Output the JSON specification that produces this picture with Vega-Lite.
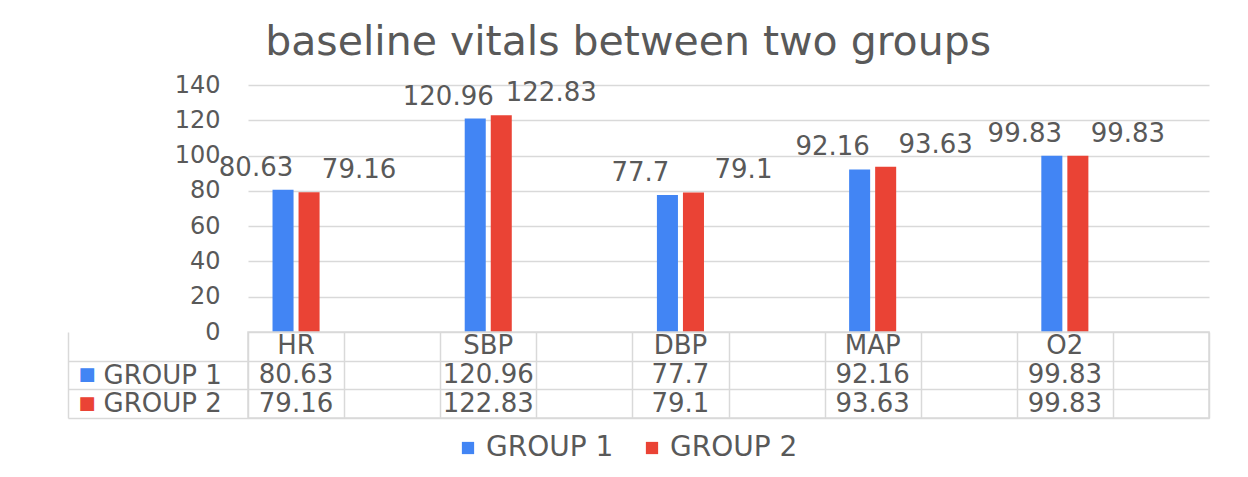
{
  "$schema": "https://vega.github.io/schema/vega-lite/v6.json",
  "background": "white",
  "padding": {"left": 66, "top": 22, "right": 5, "bottom": 5},
  "title": {
    "text": "baseline vitals between two groups",
    "fontSize": 41,
    "font": "DejaVu Sans",
    "fontWeight": "normal",
    "color": "#595959",
    "anchor": "middle",
    "offset": 9,
    "dx": -10
  },
  "data": {
    "values": [
      {"cat": "HR", "group": "GROUP 1", "value": 80.63},
      {"cat": "HR", "group": "GROUP 2", "value": 79.16},
      {"cat": "SBP", "group": "GROUP 1", "value": 120.96},
      {"cat": "SBP", "group": "GROUP 2", "value": 122.83},
      {"cat": "DBP", "group": "GROUP 1", "value": 77.7},
      {"cat": "DBP", "group": "GROUP 2", "value": 79.1},
      {"cat": "MAP", "group": "GROUP 1", "value": 92.16},
      {"cat": "MAP", "group": "GROUP 2", "value": 93.63},
      {"cat": "O2", "group": "GROUP 1", "value": 99.83},
      {"cat": "O2", "group": "GROUP 2", "value": 99.83}
    ]
  },
  "spacing": 0,
  "bounds": "flush",
  "vconcat": [
    {
      "width": 961,
      "height": 247,
      "view": {"stroke": null},
      "encoding": {
        "x": {
          "field": "cat",
          "type": "nominal",
          "scale": {"domain": ["HR", "gap1", "SBP", "gap2", "DBP", "gap3", "MAP", "gap4", "O2", "gap5"], "paddingInner": 0, "paddingOuter": 0},
          "axis": null
        },
        "xOffset": {
          "field": "group",
          "type": "nominal",
          "scale": {"domain": ["GROUP 1", "GROUP 2"], "paddingInner": 0.192, "paddingOuter": 0.942}
        },
        "y": {
          "field": "value",
          "type": "quantitative",
          "scale": {"domain": [0, 140]},
          "axis": {
            "values": [0, 20, 40, 60, 80, 100, 120, 140],
            "title": null,
            "domain": false,
            "ticks": false,
            "labelPadding": 28,
            "labelFontSize": 24,
            "labelFont": "DejaVu Sans",
            "labelColor": "#595959",
            "gridColor": "#d9d9d9",
            "gridWidth": 1.5
          }
        }
      },
      "layer": [
        {
          "mark": {"type": "bar"},
          "encoding": {
            "color": {
              "field": "group",
              "type": "nominal",
              "scale": {"domain": ["GROUP 1", "GROUP 2"], "range": ["#4285F4", "#EA4335"]},
              "legend": {
                "orient": "none",
                "legendX": 206,
                "legendY": 349,
                "direction": "horizontal",
                "title": null,
                "symbolType": "square",
                "symbolSize": 150,
                "symbolStrokeWidth": 0,
                "labelFontSize": 28,
                "labelFont": "DejaVu Sans",
                "labelColor": "#595959",
                "columnPadding": 24
              }
            }
          }
        },
        {
          "transform": [{"filter": "datum.group == 'GROUP 1'"}],
          "mark": {"type": "text", "dx": -27, "dy": -22, "fontSize": 26, "font": "DejaVu Sans", "color": "#595959", "baseline": "middle"},
          "encoding": {"text": {"field": "value", "type": "nominal"}}
        },
        {
          "transform": [{"filter": "datum.group == 'GROUP 2'"}],
          "mark": {"type": "text", "dx": 50, "dy": -22, "fontSize": 26, "font": "DejaVu Sans", "color": "#595959", "baseline": "middle"},
          "encoding": {"text": {"field": "value", "type": "nominal"}}
        }
      ]
    },
    {
      "width": 961,
      "height": 86,
      "view": {"stroke": "#d9d9d9", "strokeWidth": 1.5},
      "resolve": {"axis": {"y": "independent"}},
      "layer": [
        {
          "transform": [{"filter": "datum.group == 'GROUP 1'"}],
          "mark": {"type": "text", "fontSize": 26, "font": "DejaVu Sans", "color": "#595959", "baseline": "middle"},
          "encoding": {
            "x": {
              "field": "cat",
              "type": "nominal",
              "scale": {"domain": ["HR", "gap1", "SBP", "gap2", "DBP", "gap3", "MAP", "gap4", "O2", "gap5"], "paddingInner": 0, "paddingOuter": 0},
              "axis": {"orient": "top", "labels": false, "ticks": false, "domain": false, "title": null, "grid": true, "tickBand": "extent", "gridColor": "#d9d9d9", "gridWidth": 1.5}
            },
            "y": {
              "datum": "Category",
              "type": "nominal",
              "scale": {"domain": ["Category", "GROUP 1", "GROUP 2"], "paddingInner": 0, "paddingOuter": 0},
              "axis": {
                "orient": "left",
                "values": ["GROUP 1", "GROUP 2"],
                "title": null,
                "domain": false,
                "ticks": true,
                "tickSize": 180,
                "tickBand": "extent",
                "tickColor": "#d9d9d9",
                "tickWidth": 1.5,
                "grid": true,
                "gridColor": "#d9d9d9",
                "gridWidth": 1.5,
                "labelAlign": "left",
                "labelBaseline": "middle",
                "labelPadding": -35,
                "labelFontSize": 26,
                "labelFont": "DejaVu Sans",
                "labelColor": "#595959"
              }
            },
            "text": {"field": "cat", "type": "nominal"}
          }
        },
        {
          "mark": {"type": "text", "fontSize": 26, "font": "DejaVu Sans", "color": "#595959", "baseline": "middle"},
          "encoding": {
            "x": {
              "field": "cat",
              "type": "nominal",
              "scale": {"domain": ["HR", "gap1", "SBP", "gap2", "DBP", "gap3", "MAP", "gap4", "O2", "gap5"], "paddingInner": 0, "paddingOuter": 0},
              "axis": {"orient": "top", "labels": false, "ticks": false, "domain": false, "title": null, "grid": true, "tickBand": "extent", "gridColor": "#d9d9d9", "gridWidth": 1.5}
            },
            "y": {
              "field": "group",
              "type": "nominal",
              "scale": {"domain": ["Category", "GROUP 1", "GROUP 2"], "paddingInner": 0, "paddingOuter": 0},
              "axis": {
                "orient": "left",
                "values": ["GROUP 1", "GROUP 2"],
                "title": null,
                "offset": 180,
                "domain": true,
                "domainColor": "#d9d9d9",
                "domainWidth": 1.5,
                "ticks": false,
                "tickSize": 0,
                "grid": false,
                "labelExpr": "'■'",
                "labelAlign": "left",
                "labelBaseline": "middle",
                "labelPadding": -10,
                "labelFontSize": 18,
                "labelFont": "DejaVu Sans",
                "labelColor": {"condition": {"test": "datum.value === 'GROUP 1'", "value": "#4285F4"}, "value": "#EA4335"}
              }
            },
            "text": {"field": "value", "type": "nominal"}
          }
        }
      ]
    }
  ],
  "config": {
    "font": "DejaVu Sans"
  }
}
